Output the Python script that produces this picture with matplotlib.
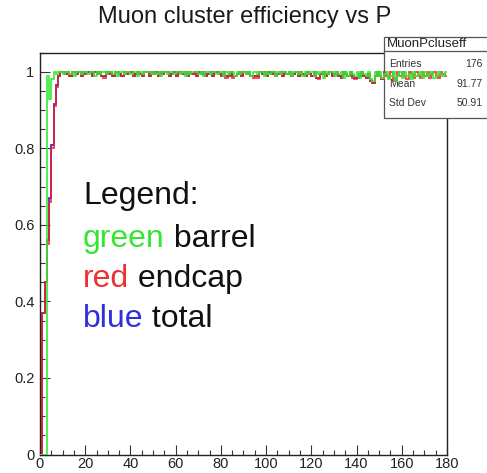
import numpy as np
import matplotlib.pyplot as plt
from matplotlib.patches import Rectangle
from matplotlib.ticker import MultipleLocator

plt.rcParams['font.family'] = ['Liberation Sans', 'DejaVu Sans']

# momentum bins, width 1 from 0 to 180
p_edges = np.arange(0, 181, 1)

# barrel efficiency per bin
eff_barrel = [
    0, 0, 0, 0.99, 0.93, 0.98, 1.0, 0.995, 1.0, 1.0,
    0.995, 1.0, 1.0, 0.995, 1.0, 0.99, 1.0, 1.0, 0.995, 1.0,
    1.0, 0.995, 1.0, 1.0, 0.99, 1.0, 0.995, 1.0, 1.0, 0.995,
    1.0, 1.0, 0.995, 1.0, 0.99, 1.0, 1.0, 0.995, 1.0, 1.0,
    0.995, 1.0, 1.0, 0.99, 1.0, 0.995, 1.0, 1.0, 1.0, 0.995,
    1.0, 0.995, 1.0, 0.99, 1.0, 1.0, 0.995, 1.0, 1.0, 0.995,
    1.0, 1.0, 0.995, 1.0, 0.99, 1.0, 0.995, 1.0, 1.0, 1.0,
    0.995, 1.0, 0.99, 1.0, 1.0, 0.995, 1.0, 1.0, 0.995, 1.0,
    1.0, 0.99, 1.0, 0.995, 1.0, 1.0, 0.99, 1.0, 0.995, 1.0,
    1.0, 0.995, 1.0, 0.99, 1.0, 1.0, 0.995, 1.0, 1.0, 0.99,
    1.0, 0.995, 1.0, 1.0, 0.99, 1.0, 0.995, 1.0, 1.0, 0.995,
    1.0, 0.99, 1.0, 1.0, 0.995, 1.0, 0.99, 1.0, 0.995, 1.0,
    1.0, 0.99, 1.0, 0.995, 1.0, 0.985, 1.0, 0.995, 1.0, 1.0,
    0.99, 1.0, 0.995, 1.0, 0.985, 1.0, 0.99, 1.0, 0.995, 0.99,
    1.0, 0.985, 1.0, 0.995, 0.99, 1.0, 0.98, 0.975, 1.0, 0.99,
    1.0, 0.985, 0.995, 1.0, 0.98, 0.99, 1.0, 0.975, 0.99, 1.0,
    0.985, 1.0, 0.99, 0.995, 0.98, 1.0, 0.99, 0.995, 1.0, 0.985,
    1.0, 0.99, 0.995, 1.0, 0.985, 0.99, 1.0, 0.995, 0.99, 1.0,
]

# endcap efficiency per bin
eff_endcap = [
    0, 0.37, 0.45, 0.55, 0.66, 0.80, 0.91, 0.96, 0.99, 1.0,
    1.0, 0.995, 1.0, 0.99, 1.0, 1.0, 0.995, 1.0, 0.99, 1.0,
    0.995, 1.0, 1.0, 0.99, 1.0, 0.995, 1.0, 0.99, 0.985, 1.0,
    0.995, 1.0, 0.99, 1.0, 1.0, 0.995, 0.99, 1.0, 0.995, 1.0,
    1.0, 0.99, 0.995, 1.0, 0.995, 0.99, 1.0, 1.0, 0.99, 1.0,
    0.995, 1.0, 0.99, 1.0, 0.995, 1.0, 1.0, 0.99, 0.995, 1.0,
    0.99, 1.0, 1.0, 0.995, 1.0, 0.99, 1.0, 0.995, 1.0, 0.99,
    1.0, 0.995, 1.0, 0.99, 0.995, 1.0, 0.99, 1.0, 1.0, 0.995,
    0.99, 1.0, 0.985, 0.99, 1.0, 0.985, 0.99, 0.995, 1.0, 0.99,
    1.0, 0.995, 1.0, 0.99, 0.985, 0.99, 0.985, 1.0, 0.995, 1.0,
    0.99, 1.0, 0.995, 1.0, 0.99, 0.995, 1.0, 0.99, 1.0, 0.995,
    1.0, 0.99, 0.995, 1.0, 0.99, 1.0, 0.995, 0.99, 1.0, 0.995,
    0.99, 1.0, 0.985, 0.98, 0.995, 1.0, 0.99, 0.995, 1.0, 0.99,
    0.995, 1.0, 0.99, 0.985, 1.0, 0.995, 0.99, 1.0, 0.985, 0.98,
    0.985, 0.995, 1.0, 0.99, 0.985, 0.995, 0.975, 0.97, 0.99, 1.0,
    0.99, 0.98, 1.0, 0.99, 0.985, 1.0, 0.975, 0.985, 1.0, 0.99,
    1.0, 0.99, 0.98, 1.0, 0.995, 0.985, 1.0, 0.99, 0.985, 1.0,
    0.99, 1.0, 0.985, 0.995, 1.0, 0.99, 0.985, 1.0, 0.995, 0.99,
]

# total efficiency per bin
eff_total = [
    0, 0.37, 0.45, 0.56, 0.67, 0.81, 0.915, 0.965, 0.99, 1.0,
    1.0, 0.995, 1.0, 0.99, 1.0, 1.0, 0.995, 1.0, 0.99, 1.0,
    0.995, 1.0, 1.0, 0.99, 1.0, 0.995, 1.0, 0.99, 0.99, 1.0,
    0.995, 1.0, 0.99, 1.0, 1.0, 0.995, 0.99, 1.0, 0.995, 1.0,
    1.0, 0.99, 0.995, 1.0, 0.995, 0.99, 1.0, 1.0, 0.99, 1.0,
    0.995, 1.0, 0.99, 1.0, 0.995, 1.0, 1.0, 0.99, 0.995, 1.0,
    0.99, 1.0, 1.0, 0.995, 1.0, 0.99, 1.0, 0.995, 1.0, 0.99,
    1.0, 0.995, 1.0, 0.99, 0.995, 1.0, 0.99, 1.0, 1.0, 0.995,
    0.99, 1.0, 0.99, 0.99, 1.0, 0.99, 0.99, 0.995, 1.0, 0.99,
    1.0, 0.995, 1.0, 0.99, 0.99, 0.99, 0.99, 1.0, 0.995, 1.0,
    0.99, 1.0, 0.995, 1.0, 0.99, 0.995, 1.0, 0.99, 1.0, 0.995,
    1.0, 0.99, 0.995, 1.0, 0.99, 1.0, 0.995, 0.99, 1.0, 0.995,
    0.99, 1.0, 0.985, 0.985, 0.995, 1.0, 0.99, 0.995, 1.0, 0.99,
    0.995, 1.0, 0.99, 0.985, 1.0, 0.995, 0.99, 1.0, 0.99, 0.985,
    0.985, 0.99, 1.0, 0.99, 0.985, 0.995, 0.975, 0.97, 0.99, 1.0,
    0.99, 0.98, 1.0, 0.99, 0.985, 1.0, 0.975, 0.98, 1.0, 0.99,
    1.0, 0.99, 0.98, 1.0, 0.995, 0.985, 1.0, 0.99, 0.985, 1.0,
    0.99, 1.0, 0.985, 0.995, 1.0, 0.99, 0.985, 1.0, 0.995, 0.99,
]

stats_labels = ["Entries", "Mean", "Std Dev"]
stats_values = ["176", "91.77", "50.91"]

x_ticks = [0, 20, 40, 60, 80, 100, 120, 140, 160, 180]
y_ticks = [0, 0.2, 0.4, 0.6, 0.8, 1.0]
y_tick_labels = ["0", "0.2", "0.4", "0.6", "0.8", "1"]

fig = plt.figure(figsize=(4.87, 4.73), dpi=100)
ax = fig.add_axes([0.0821, 0.039, 0.8357, 0.8497])

ax.stairs(eff_total, p_edges, baseline=None, color="#3030e0", lw=1.3, zorder=2)
ax.stairs(eff_endcap, p_edges, baseline=None, color="#f02020", lw=1.3, alpha=0.85, zorder=4)
ax.stairs(eff_barrel, p_edges, baseline=None, color="#33e833", lw=1.3, alpha=0.9, zorder=4.5)

ax.set_xlim(0, 180)
ax.set_ylim(0, 1.05)
ax.set_xticks(x_ticks)
ax.set_yticks(y_ticks)
ax.set_yticklabels(y_tick_labels)
ax.xaxis.set_minor_locator(MultipleLocator(5))
ax.yaxis.set_minor_locator(MultipleLocator(0.05))
ax.tick_params(which="both", direction="in", top=False, right=False,
               labelsize=10.5, width=0.8, color="#333333", labelcolor="#222222")
ax.tick_params(which="major", length=7)
ax.tick_params(which="minor", length=3.5)
ax.tick_params(axis="x", pad=1.5)
ax.tick_params(axis="y", pad=4)
for s in ax.spines.values():
    s.set_linewidth(1.0)
    s.set_color("#222222")

fig.text(0.503, 0.964, "Muon cluster efficiency vs P", ha="center", va="center",
         fontsize=17, color="#1a1a1a")

# legend written as coloured words inside the frame
ax.text(19, 0.676, "Legend:", fontsize=23, va="center", color="#111111")
legend_rows = [("green", "#33e633", " barrel", 0.563),
               ("red", "#ee3030", " endcap", 0.459),
               ("blue", "#3030d8", " total", 0.354)]
for word, col, rest, yv in legend_rows:
    t = ax.text(19, yv, word, fontsize=23, va="center", color=col)
    ax.annotate(rest, xy=(1, 0), xycoords=t, va="bottom", ha="left",
                fontsize=23, color="#111111")

# stats box in the top right corner
bx0, bx1, by0, by1, hsep = 0.845, 1.101, 0.8376, 1.039, 1.004
ax.add_patch(Rectangle((bx0, by0), bx1 - bx0, by1 - by0, transform=ax.transAxes,
                       facecolor="white", edgecolor="#555555", lw=0.9,
                       clip_on=False, zorder=3))
ax.plot([bx0, bx1], [hsep, hsep], transform=ax.transAxes, color="#555555",
        lw=0.9, clip_on=False, zorder=3.1)
ax.text(bx0 + 0.008, (hsep + by1) / 2, "MuonPcluseff", transform=ax.transAxes,
        fontsize=9.5, va="center", ha="left", color="#222222", zorder=3.2,
        clip_on=False)
for i, (lab, val) in enumerate(zip(stats_labels, stats_values)):
    yy = 0.972 - i * 0.049
    ax.text(bx0 + 0.012, yy, lab, transform=ax.transAxes, fontsize=7.5,
            va="center", ha="left", color="#333333", zorder=3.2, clip_on=False)
    ax.text(1.088, yy, val, transform=ax.transAxes, fontsize=7.5,
            va="center", ha="right", color="#333333", zorder=3.2, clip_on=False)

fig.savefig("out.png", dpi=100)
